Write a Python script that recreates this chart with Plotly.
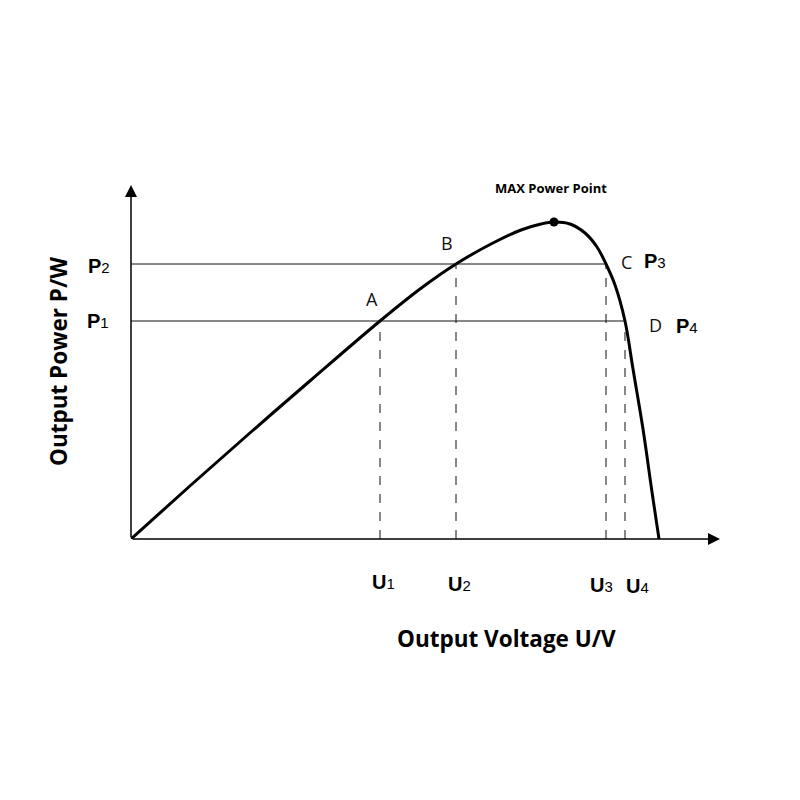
import plotly.graph_objects as go

# Curve (arbitrary units)
U = [0.0, 6.0, 12.0, 18.0, 24.9, 28.9, 32.5, 36.0, 39.0, 41.0, 42.3, 43.9, 45.4, 46.6, 47.5, 48.4, 49.4, 50.2, 51.2, 52.1, 52.8]
P = [0.0, 5.4, 10.7, 15.9, 21.8, 25.0, 27.5, 29.5, 30.9, 31.5, 31.7, 31.5, 30.6, 29.2, 27.5, 25.4, 21.8, 17.0, 11.0, 4.7, 0.0]

pt_names = ["A", "B", "C", "D"]
pt_u = [24.9, 32.5, 47.5, 49.4]
pt_p = [21.8, 27.5, 27.5, 21.8]
u_labels = ["U|1", "U|2", "U|3", "U|4"]
max_u, max_p = 42.3, 31.7

X_END, Y_END = 58.9, 35.4

def sub_label(s):
    a, b = s.split("|")
    return "<b>" + a + "</b><span style='font-size:15px'>" + b + "</span>"

fig = go.Figure()

fig.add_trace(go.Scatter(x=U, y=P, mode="lines", line=dict(color="black", width=3, shape="spline", smoothing=1.0),
                         hoverinfo="skip", showlegend=False))
fig.add_trace(go.Scatter(x=[max_u], y=[max_p], mode="markers", marker=dict(color="black", size=9),
                         hoverinfo="skip", showlegend=False))

# horizontal solid lines P2 -> C, P1 -> D
for pu, pp in [(pt_u[2], pt_p[2]), (pt_u[3], pt_p[3])]:
    fig.add_shape(type="line", x0=0, x1=pu, y0=pp, y1=pp, line=dict(color="#111", width=1))
# vertical dashed lines
for pu, pp in zip(pt_u, pt_p):
    fig.add_shape(type="line", x0=pu, x1=pu, y0=0, y1=pp, line=dict(color="#111", width=1, dash="dash"))

# axes with arrows
fig.add_annotation(x=X_END, y=0, ax=0, ay=0, xref="x", yref="y", axref="x", ayref="y",
                   showarrow=True, arrowhead=2, arrowsize=1.6, arrowwidth=1.5, arrowcolor="black", text="")
fig.add_annotation(x=0, y=Y_END, ax=0, ay=0, xref="x", yref="y", axref="x", ayref="y",
                   showarrow=True, arrowhead=2, arrowsize=1.6, arrowwidth=1.5, arrowcolor="black", text="")

lab_font = dict(family="Open Sans", size=18, color="#111")
offs = [(-8, 22), (-9, 21), (20, 2), (30, -4)]
for n, pu, pp, (dx, dy) in zip(pt_names, pt_u, pt_p, offs):
    fig.add_annotation(x=pu, y=pp, text=n, showarrow=False, xshift=dx, yshift=dy, font=lab_font)

bold_font = dict(family="Liberation Sans", size=20, color="black")
# U labels below x axis
u_off = [(3, -43), (3, -45), (-5, -46), (12, -47)]
for t, pu, (dx, dy) in zip(u_labels, pt_u, u_off):
    fig.add_annotation(x=pu, y=0, text=sub_label(t), showarrow=False, xshift=dx, yshift=dy, font=bold_font)

# P labels
fig.add_annotation(x=0, y=pt_p[0], text=sub_label("P|1"), showarrow=False, xshift=-33, yshift=0, font=bold_font)
fig.add_annotation(x=0, y=pt_p[1], text=sub_label("P|2"), showarrow=False, xshift=-32, yshift=-2, font=bold_font)
fig.add_annotation(x=pt_u[2], y=pt_p[2], text=sub_label("P|3"), showarrow=False, xshift=49, yshift=3, font=bold_font)
fig.add_annotation(x=pt_u[3], y=pt_p[3], text=sub_label("P|4"), showarrow=False, xshift=62, yshift=-5, font=bold_font)

fig.add_annotation(x=max_u, y=max_p, text="<b>MAX Power Point</b>", showarrow=False, xshift=-3, yshift=34,
                   font=dict(family="Open Sans", size=13, color="black"))

# page body has an 8px margin, so the figure is 792 wide/high and offsets are 8px smaller
fig.update_layout(
    width=792, height=792,
    margin=dict(l=123, r=80, t=177, b=261),
    plot_bgcolor="white", paper_bgcolor="white",
    xaxis=dict(range=[0, X_END], visible=False, fixedrange=True),
    yaxis=dict(range=[0, Y_END], visible=False, fixedrange=True),
)
fig.add_annotation(xref="paper", yref="paper", x=0.5, y=0, xanchor="center", yanchor="middle",
                   text="<b>Output Voltage U/V</b>", showarrow=False,
                   xshift=506 - (131 + 589 / 2), yshift=-99, font=dict(family="Open Sans", size=22.5, color="black"))
fig.add_annotation(xref="paper", yref="paper", x=0, y=0.5, xanchor="center", yanchor="middle",
                   text="<b>Output Power P/W</b>", showarrow=False,
                   textangle=-90, xshift=-73, yshift=0, font=dict(family="Open Sans", size=22.5, color="black"))

fig.write_html("out.html")
